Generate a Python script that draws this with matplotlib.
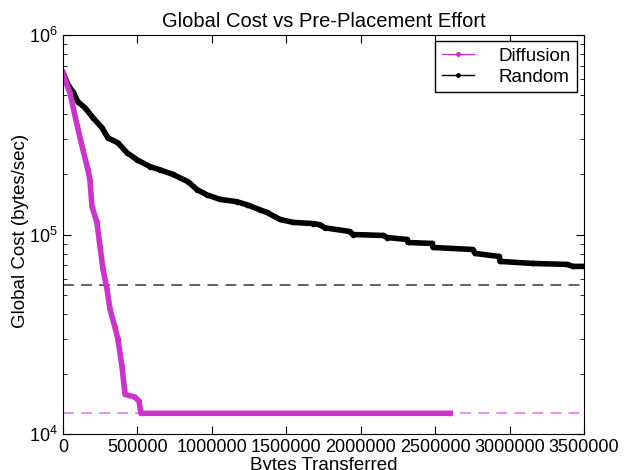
import matplotlib
matplotlib.use('Agg')
import matplotlib.pyplot as plt
from matplotlib.lines import Line2D

plt.rcParams['font.family'] = ['Liberation Sans', 'DejaVu Sans']
plt.rcParams['mathtext.fontset'] = 'custom'
plt.rcParams['mathtext.rm'] = 'Liberation Sans'

# data
random_x = [0, 33600, 67200, 100800, 147800, 201500, 262000, 302000, 369500,
            430000, 497000, 584000, 652000, 739000, 840000, 900000, 967000,
            1055000, 1169000, 1236000, 1323000, 1370000, 1458000, 1545000,
            1680000, 1726000, 1760000, 1928000, 1948000, 2150000, 2177000,
            2311000, 2318000, 2480000, 2486000, 2754000, 2768000, 2930000,
            2936000, 3157000, 3386000, 3426000, 3500000]
random_y = [645700, 562000, 519000, 462000, 432000, 385000, 343000, 305000, 288000,
            257000, 237000, 219000, 211000, 200000, 184000, 168000, 158000,
            150000, 146000, 141000, 133000, 129000, 119000, 115000,
            113500, 112000, 108000, 103500, 100000, 98900, 96600,
            94400, 91200, 90200, 86100, 84100, 80400, 77600,
            73300, 71600, 70800, 69200, 69200]

diff_x = [0, 13400, 47000, 94000, 134000, 168000, 181000, 195000, 228000,
          249000, 269000, 296000, 316000, 349000, 369000, 396000, 417000,
          484000, 511000, 524000, 2600000]
diff_y = [645700, 596000, 513000, 355000, 266000, 211000, 188000, 138000, 115000,
          87000, 66800, 53100, 42200, 34300, 29900, 21900, 15800,
          15300, 14600, 12700, 12700]

random_base = 56000
diff_base = 12700

fig = plt.figure(figsize=(6.26, 4.70), dpi=100)
ax = fig.add_axes([0.1006, 0.0766, 0.8323, 0.8489])

ax.axhline(random_base, color='#555555', linestyle='--', dashes=(6, 4), lw=1.3)
ax.axhline(diff_base, color='#ee82ee', linestyle='--', dashes=(6, 4), lw=1.3)

ax.plot(random_x, random_y, color='black', lw=4, marker='.', ms=6,
        solid_joinstyle='round')
ax.plot(diff_x, diff_y, color='#cc33cc', lw=4, marker='.', ms=6,
        solid_joinstyle='round')

ax.set_yscale('log')
ax.set_ylim(1e4, 1e6)
ax.set_xlim(0, 3500000)
ax.set_xticks([0, 500000, 1000000, 1500000, 2000000, 2500000, 3000000, 3500000])
ax.set_xticklabels(['0', '500000', '1000000', '1500000', '2000000', '2500000',
                    '3000000', '3500000'])
ax.tick_params(which='both', direction='in', top=True, right=True, labelsize=13)
ax.tick_params(which='major', length=6)
ax.tick_params(which='minor', length=3)

ax.set_title('Global Cost vs Pre-Placement Effort', fontsize=14.5, pad=5.5)
ax.set_xlabel('Bytes Transferred', fontsize=13.5, labelpad=1)
ax.set_ylabel('Global Cost (bytes/sec)', fontsize=13.5)
ax.yaxis.set_label_coords(-0.066, 0.51)

handles = [Line2D([], [], color='#cc33cc', lw=1, marker='.', ms=5),
           Line2D([], [], color='black', lw=1, marker='.', ms=5)]
ax.legend(handles, ['Diffusion', 'Random'], loc='upper right', fontsize=13.5,
          fancybox=False, edgecolor='black', framealpha=1, handlelength=1.7,
          handletextpad=1.3, labelspacing=0.2, borderpad=0.35, borderaxespad=0,
          bbox_to_anchor=(0.9866, 0.985))

fig.savefig('out.png', dpi=100)
